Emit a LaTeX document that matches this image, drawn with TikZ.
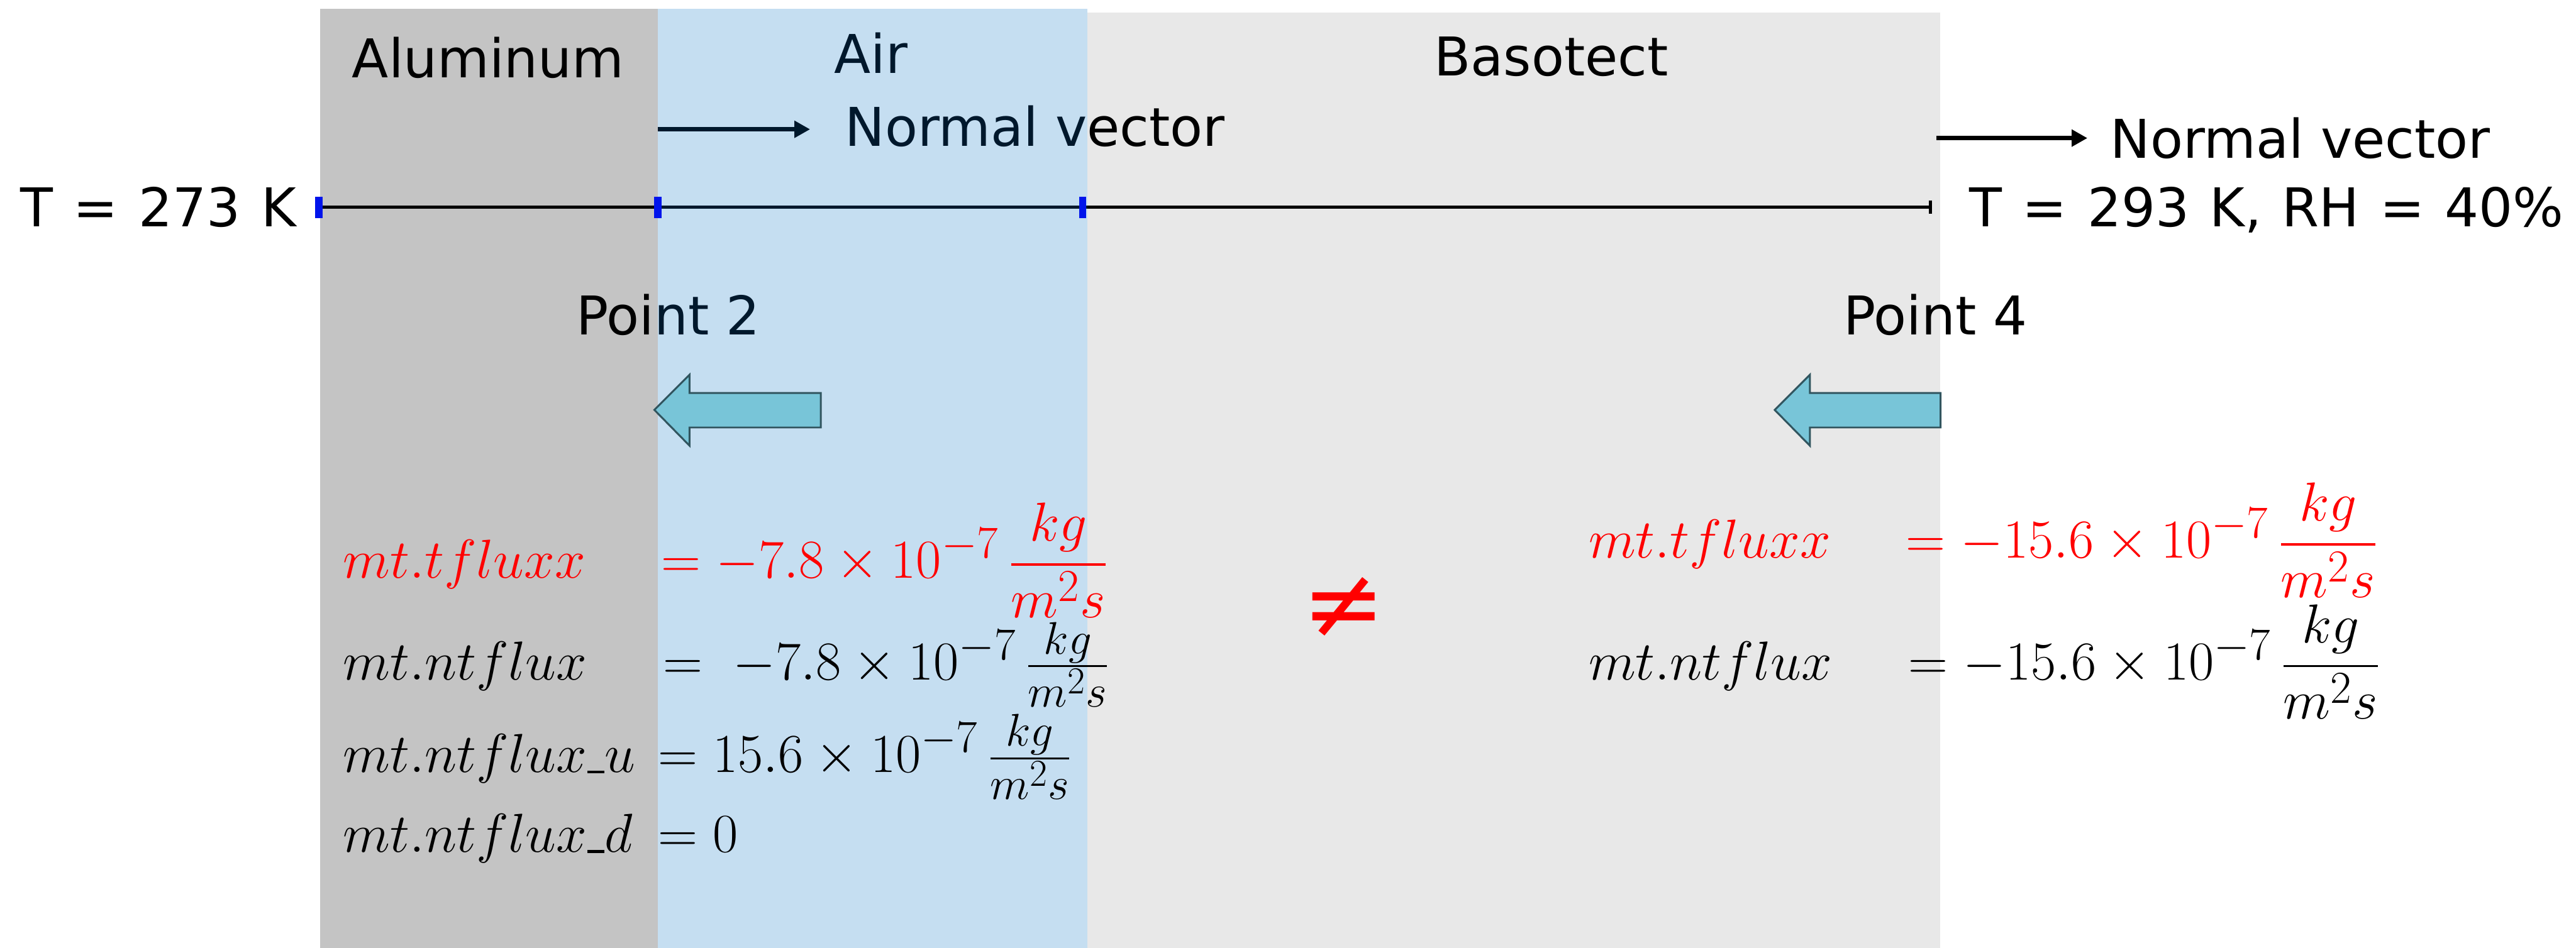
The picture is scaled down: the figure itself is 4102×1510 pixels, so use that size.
\RequirePackage{fix-cm}
\documentclass[tikz,border=0pt]{standalone}
\usepackage{amsmath}
\usepackage[no-math]{fontspec}
\setmainfont{DejaVu Sans}
\newfontfamily\widefont[WordSpace=1.2]{DejaVu Sans}
\usepackage{graphicx}
\usetikzlibrary{arrows.meta}
\definecolor{alu}{RGB}{196,196,196}
\definecolor{baso}{RGB}{232,232,232}
\definecolor{airov}{RGB}{0,108,195}
\definecolor{arrfill}{RGB}{120,197,216}
\definecolor{arrdraw}{RGB}{49,85,95}
\definecolor{markblue}{RGB}{0,20,235}
\newcommand{\myusc}{\mbox{\rule[-0.02em]{0.32em}{0.05em}}}
\begin{document}
\begin{tikzpicture}[x=0.01cm,y=-0.01cm,
  lbl/.style={anchor=base west,inner sep=0pt,font=\fontsize{24.2}{29}\selectfont},
  widelbl/.style={lbl,font=\widefont\fontsize{24.2}{29}\selectfont},
  eqn/.style={anchor=base west,inner sep=0pt,font=\fontsize{24.88}{30}\selectfont},
  blockarrow/.style={fill=arrfill,draw=arrdraw,line width=0.85pt,line join=miter},
  markbox/.style={fill=markblue,draw=none},
  nvec/.style={line width=2pt,-{Triangle[length=0.25cm,width=0.26cm]}},
  axisline/.style={line width=1.4pt}]
\useasboundingbox (0,0) rectangle (4102,1510);
% material regions (aluminum, basotect)
\fill[alu] (510,14) rectangle (1048,1510);
\fill[baso] (1732,20) rectangle (3089,1510);
% axis line
\coordinate (L) at (508,330);
\coordinate (R) at (3076,330);
\draw[axisline,-{Bar[width=0.22cm,line width=1.4pt]}] (L) -- (R);
% labels
\node[lbl] (alulbl) at (560,124) {Aluminum};
\node[lbl] (airlbl) at (1328,117) {Air};
\node[lbl] (basolbl) at (2283,121) {Basotect};
\node[lbl] (nv1) at (1345,233) {Normal vector};
\node[lbl] (nv2) at (3360,252) {Normal vector};
\node[widelbl] (tleft) at (32,361) {T = 273 K};
\node[widelbl] (tright) at (3135,361) {T = 293 K, RH = 40\%};
\node[lbl] (p2) at (917,533) {Point 2};
\node[lbl] (p4) at (2935,533) {Point 4};
% normal vectors
\coordinate (n1s) at (1048,206);
\coordinate (n1e) at (1290,206);
\coordinate (n2s) at (3083,220);
\coordinate (n2e) at (3324,220);
\draw[nvec] (n1s) -- (n1e);
\draw[nvec] (n2s) -- (n2e);
% air region (translucent overlay)
\fill[airov,fill opacity=0.227] (1048,14) rectangle (1732,1510);
% boundary markers
\fill[markbox] (502,313) rectangle (514,348);
\fill[markbox] (1042,313) rectangle (1054,348);
\fill[markbox] (1718,313) rectangle (1730,348);
% block arrows
\draw[blockarrow] (1042,653) -- (1098,597) -- (1098,626) -- (1307,626) -- (1307,681) -- (1098,681) -- (1098,710) -- cycle;
\draw[blockarrow] (2826,653) -- (2882,597) -- (2882,626) -- (3090,626) -- (3090,681) -- (2882,681) -- (2882,710) -- cycle;
% left equations
\node[eqn,text=red] (l1a) at (546,921) {$mt.tfluxx$};
\node[eqn,text=red] (l1b) at (1052,921) {$= -7.8\times10^{-7}\,\dfrac{kg}{m^2s}$};
\node[eqn] (l2a) at (546,1083) {$mt.ntflux$};
\node[eqn] (l2b) at (1055,1083) {$= \;-7.8\times10^{-7}\,\tfrac{kg}{m^2s}$};
\node[eqn] (l3a) at (546,1230) {$mt.ntflux\myusc u$};
\node[eqn] (l3b) at (1047,1230) {$= 15.6\times10^{-7}\,\tfrac{kg}{m^2s}$};
\node[eqn] (l4a) at (546,1357) {$mt.ntflux\myusc d$};
\node[eqn] (l4b) at (1047,1357) {$= 0$};
% not equal
\node[inner sep=0pt,text=red,font=\fontsize{45}{54}\selectfont] (neq) at (2140,968) {≠};
% right equations
\node[eqn,text=red] (r1a) at (2529,889) {$mt.tfluxx$};
\node[eqn,text=red] (r1b) at (3034,889) {$= -15.6\times10^{-7}\,\dfrac{kg}{m^2s}$};
\node[eqn] (r2a) at (2529,1083) {$mt.ntflux$};
\node[eqn] (r2b) at (3038,1083) {$= -15.6\times10^{-7}\,\dfrac{kg}{m^2s}$};
\end{tikzpicture}
\end{document}
